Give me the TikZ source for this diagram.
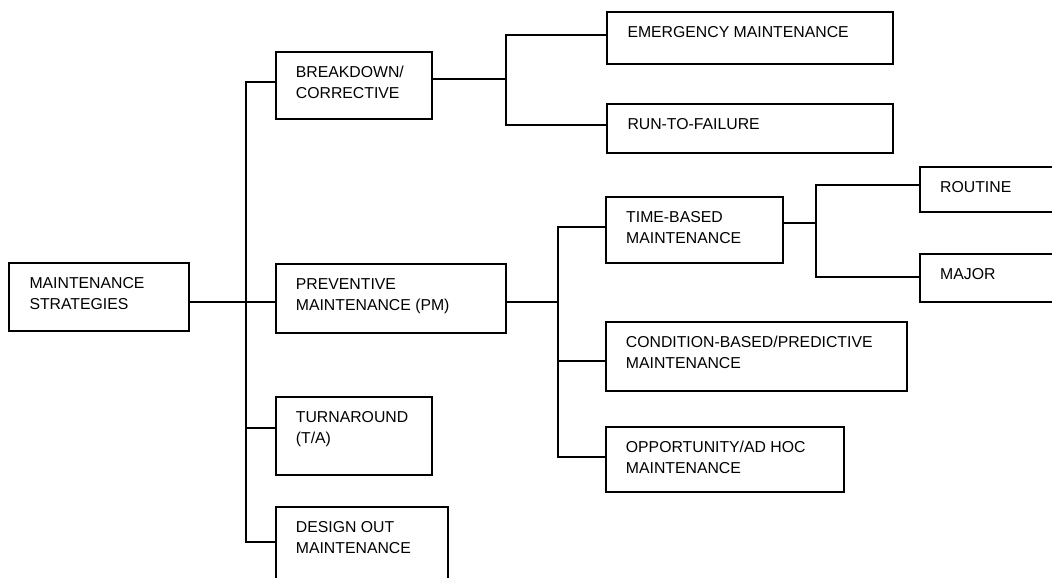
\documentclass[tikz,border=0pt]{standalone}
\usepackage{fontspec}
\setmainfont{Liberation Sans}
\begin{document}
\begin{tikzpicture}[x=1pt,y=-1pt,
  box/.style={draw,line width=1.9pt,rectangle,inner sep=0pt,outer sep=0pt,anchor=north west},
  lbl/.style={anchor=base west,inner sep=0pt,font=\fontsize{15.8}{21}\selectfont},
  link/.style={line width=1.9pt}]
% page frame and clipping for the boxes running off the edges
\useasboundingbox (0,0) rectangle (1052,578);
\fill[white] (0,0) rectangle (1052,578);
\clip (0,0) rectangle (1052,578);

% \treebox{name}{left}{top}{right}{bottom}{text}
\newcommand{\treebox}[6]{%
  \node[box,minimum width={#4-#2},minimum height={#5-#3}] (#1) at (#2,#3) {};
  \node[lbl] (#1-t) at ([xshift=20pt,yshift=-25.5pt]#1.north west)
    {\begin{tabular}[t]{@{}l@{}}#6\end{tabular}};
}

\treebox{ms}{9.3}{262.7}{189.3}{331}{MAINTENANCE\\STRATEGIES}
\treebox{bd}{275.7}{51.7}{432.3}{119.3}{BREAKDOWN/\\CORRECTIVE}
\treebox{pm}{275.7}{264.3}{506}{333.3}{PREVENTIVE\\MAINTENANCE (PM)}
\treebox{ta}{275.7}{397.3}{432.3}{475}{TURNAROUND\\(T/A)}
\treebox{do}{275.7}{507.3}{448.3}{600}{DESIGN OUT\\MAINTENANCE}
\treebox{em}{607.3}{11.7}{893.3}{64.3}{EMERGENCY MAINTENANCE}
\treebox{rf}{607.3}{104}{893.3}{153.3}{RUN-TO-FAILURE}
\treebox{tb}{606}{197.3}{782.7}{263.3}{TIME-BASED\\MAINTENANCE}
\treebox{cb}{605.7}{322.3}{906.7}{391}{CONDITION-BASED/PREDICTIVE\\MAINTENANCE}
\treebox{op}{605.7}{427.3}{844}{491.7}{OPPORTUNITY/AD HOC\\MAINTENANCE}
\treebox{ro}{920}{166.7}{1090}{211.7}{ROUTINE}
\treebox{mj}{920}{254}{1090}{301.7}{MAJOR}

% first level
\draw[link] (bd.west |- 0,81.7) -| (246,542.3) -- (do.west |- 0,542.3);
\draw[link] (ms.east |- 0,301.7) -- (pm.west |- 0,301.7);
\draw[link] (246,427.7) -- (ta.west |- 0,427.7);

% breakdown branch
\draw[link] (bd.east |- 0,79.3) -- (505.7,79.3);
\draw[link] (em.west |- 0,35) -| (505.7,125) -- (rf.west |- 0,125);

% preventive branch
\draw[link] (pm.east |- 0,301.7) -- (558.3,301.7);
\draw[link] (tb.west |- 0,227.3) -| (558.3,456.7) -- (op.west |- 0,456.7);
\draw[link] (558.3,361) -- (cb.west |- 0,361);

% time-based branch
\draw[link] (tb.east |- 0,223.3) -- (815.7,223.3);
\draw[link] (ro.west |- 0,185) -| (815.7,277.3) -- (mj.west |- 0,277.3);
\end{tikzpicture}
\end{document}
